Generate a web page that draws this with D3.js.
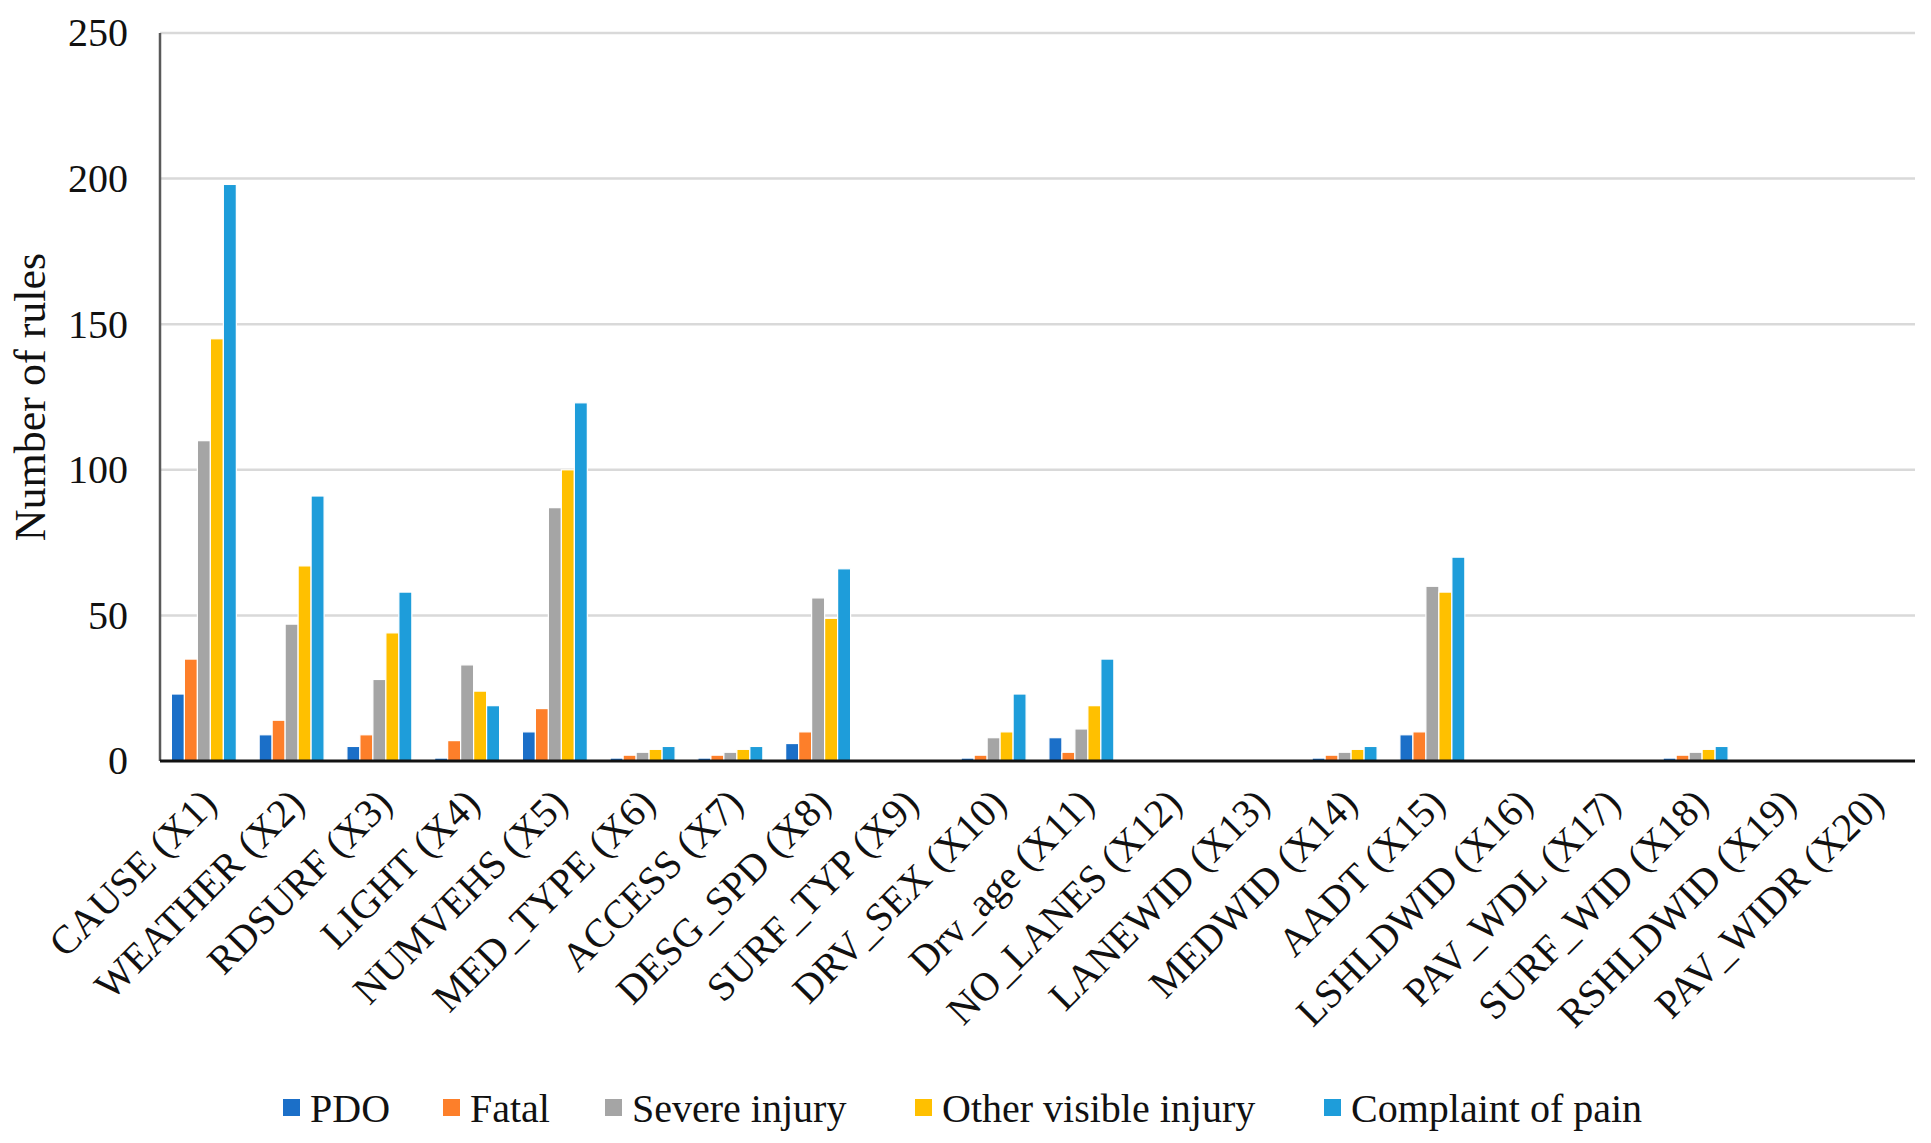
<!DOCTYPE html>
<html>
<head>
<meta charset="utf-8">
<script src="https://cdn.jsdelivr.net/npm/d3@7"></script>
<style>
  body { margin: 0; background: #fff; }
  text { font-family: "Liberation Serif", "DejaVu Serif", serif; fill: #111; }
</style>
</head>
<body>
<svg id="chart"></svg>
<script>
const categories = ["CAUSE (X1)", "WEATHER (X2)", "RDSURF (X3)", "LIGHT (X4)", "NUMVEHS (X5)",
  "MED_TYPE (X6)", "ACCESS (X7)", "DESG_SPD (X8)", "SURF_TYP (X9)", "DRV_SEX (X10)",
  "Drv_age (X11)", "NO_LANES (X12)", "LANEWID (X13)", "MEDWID (X14)", "AADT (X15)",
  "LSHLDWID (X16)", "PAV_WDL (X17)", "SURF_WID (X18)", "RSHLDWID (X19)", "PAV_WIDR (X20)"];

const seriesNames = ["PDO", "Fatal", "Severe injury", "Other visible injury", "Complaint of pain"];
const seriesColors = ["#1b6fc8", "#fd7f2a", "#a5a5a5", "#ffc000", "#1e9dda"];

const pdo       = [23, 9, 5, 1, 10, 1, 1, 6, 0, 1, 8, 0, 0, 1, 9, 0, 0, 1, 0, 0];
const fatal     = [35, 14, 9, 7, 18, 2, 2, 10, 0, 2, 3, 0, 0, 2, 10, 0, 0, 2, 0, 0];
const severe    = [110, 47, 28, 33, 87, 3, 3, 56, 0, 8, 11, 0, 0, 3, 60, 0, 0, 3, 0, 0];
const otherVis  = [145, 67, 44, 24, 100, 4, 4, 49, 0, 10, 19, 0, 0, 4, 58, 0, 0, 4, 0, 0];
const complaint = [198, 91, 58, 19, 123, 5, 5, 66, 0, 23, 35, 0, 0, 5, 70, 0, 0, 5, 0, 0];

const yTicks = [0, 50, 100, 150, 200, 250];

const W = 1931, H = 1143;
const margin = { left: 160, right: 16, top: 33, bottom: 382 };
const plotW = W - margin.left - margin.right;
const plotH = H - margin.top - margin.bottom;

const svg = d3.select("#chart").attr("width", W).attr("height", H);

const series = [pdo, fatal, severe, otherVis, complaint];
const rows = categories.map((c, i) => ({ cat: c, values: series.map(s => s[i]) }));

const x = d3.scaleBand().domain(categories).range([0, plotW]).paddingInner(0.26).paddingOuter(0.13);
const xInner = d3.scaleBand().domain(d3.range(seriesNames.length)).range([0, x.bandwidth()]);
const y = d3.scaleLinear().domain([0, 250]).range([plotH, 0]);

const g = svg.append("g").attr("transform", `translate(${margin.left},${margin.top})`);

// gridlines
g.append("g")
  .selectAll("line")
  .data(yTicks.filter(t => t > 0))
  .join("line")
  .attr("x1", 0).attr("x2", plotW)
  .attr("y1", d => y(d)).attr("y2", d => y(d))
  .attr("stroke", "#d9d9d9").attr("stroke-width", 2.5);

// y axis labels
const yAxis = g.append("g")
  .call(d3.axisLeft(y).tickValues(yTicks).tickSize(0).tickPadding(32));
yAxis.select(".domain").remove();
yAxis.selectAll("text")
  .attr("font-size", 40)
  .attr("font-family", "Liberation Serif, serif")
  .attr("fill", "#111");

// bars
const groups = g.selectAll("g.cat")
  .data(rows)
  .join("g")
  .attr("class", "cat")
  .attr("transform", d => `translate(${x(d.cat)},0)`);

groups.selectAll("rect")
  .data(d => d.values.map((v, k) => ({ v, k })).filter(e => e.v > 0))
  .join("rect")
  .attr("x", d => xInner(d.k))
  .attr("width", xInner.bandwidth())
  .attr("y", d => y(d.v))
  .attr("height", d => y(0) - y(d.v))
  .attr("fill", d => seriesColors[d.k])
  .attr("stroke", "#fff")
  .attr("stroke-width", 1.2);

// axis lines
g.append("line")
  .attr("x1", 0).attr("x2", 0).attr("y1", 0).attr("y2", plotH)
  .attr("stroke", "#595959").attr("stroke-width", 2.5);
g.append("line")
  .attr("x1", 0).attr("x2", plotW).attr("y1", plotH).attr("y2", plotH)
  .attr("stroke", "#111").attr("stroke-width", 3);

// x labels
g.append("g")
  .selectAll("text")
  .data(categories)
  .join("text")
  .attr("transform", d => `translate(${x(d) + x.bandwidth() / 2 + 5},${plotH + 35}) rotate(-45)`)
  .attr("text-anchor", "end")
  .attr("dy", "0.35em")
  .attr("font-size", 40)
  .text(d => d);

// y title
svg.append("text")
  .attr("transform", `translate(45,${margin.top + plotH / 2}) rotate(-90)`)
  .attr("text-anchor", "middle")
  .attr("font-size", 44)
  .text("Number of rules");

// legend
const legendX = [283, 443, 605, 915, 1324];
const legend = svg.append("g").attr("transform", "translate(0,1108)");
const item = legend.selectAll("g")
  .data(seriesNames)
  .join("g")
  .attr("transform", (d, i) => `translate(${legendX[i]},0)`);
item.append("rect")
  .attr("x", 0).attr("y", -9).attr("width", 17).attr("height", 17)
  .attr("fill", (d, i) => seriesColors[i]);
item.append("text")
  .attr("x", 27).attr("dy", "0.35em")
  .attr("font-size", 40)
  .text(d => d);
</script>
</body>
</html>
